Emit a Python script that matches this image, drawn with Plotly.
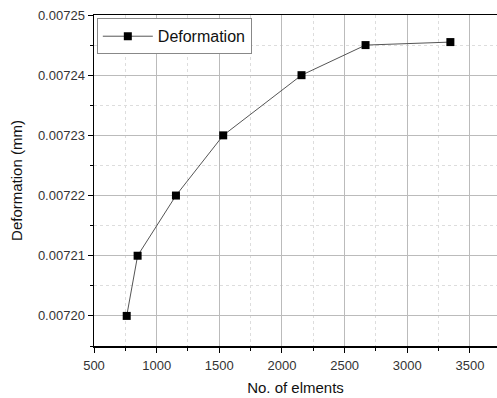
import plotly.graph_objects as go

elements = [761, 848, 1154, 1531, 2156, 2667, 3344]
deformation = [0.00720, 0.00721, 0.00722, 0.00723, 0.00724, 0.007245, 0.0072455]
x_ticks = [500, 1000, 1500, 2000, 2500, 3000, 3500]
y_ticks = [0.00720, 0.00721, 0.00722, 0.00723, 0.00724, 0.00725]
y_labels = ["0.00720", "0.00721", "0.00722", "0.00723", "0.00724", "0.00725"]

fig = go.Figure()
fig.add_trace(go.Scatter(
    x=elements, y=deformation, mode="lines+markers", name="Deformation",
    line=dict(color="#555555", width=1),
    marker=dict(symbol="square", size=8, color="black"),
))

font = "Liberation Sans, Arial, sans-serif"
fig.update_layout(
    width=497, height=398,
    margin=dict(l=94, r=0, t=15, b=52, autoexpand=False),
    paper_bgcolor="white", plot_bgcolor="white",
    font=dict(family=font, color="#222222", size=13),
    showlegend=True, hovermode=False,
    legend=dict(x=0.007, y=0.99, xanchor="left", yanchor="top",
                bordercolor="#888888", borderwidth=1, bgcolor="white",
                itemwidth=50,
                font=dict(size=16, color="#111111")),
    xaxis=dict(
        range=[500, 3716], tickvals=x_ticks, ticks="outside", ticklen=5,
        tickcolor="black", showline=True, linecolor="black", linewidth=1.5,
        mirror=True, showgrid=True, gridcolor="#bbbbbb", gridwidth=1,
        zeroline=False, automargin=False, ticklabelstandoff=2,
        minor=dict(dtick=250, tick0=500, ticks="outside", ticklen=3, tickcolor="black",
                   showgrid=True, gridcolor="#dddddd", griddash="dot", gridwidth=1),
        title=dict(text="No. of elments", font=dict(size=15, color="#111111"), standoff=10),
        tickfont=dict(size=13, color="#333333"),
    ),
    yaxis=dict(
        range=[0.007195, 0.00725], tickvals=y_ticks, ticktext=y_labels,
        ticks="outside", ticklen=5, tickcolor="black", showline=True,
        linecolor="black", linewidth=1.5, showgrid=True, gridcolor="#bbbbbb",
        gridwidth=1, zeroline=False, automargin=False,
        minor=dict(dtick=0.000005, tick0=0.0072, ticks="outside", ticklen=3, tickcolor="black",
                   showgrid=True, gridcolor="#dddddd", griddash="dot", gridwidth=1),
        title=dict(text="Deformation (mm)", font=dict(size=15, color="#111111"), standoff=11),
        tickfont=dict(size=13, color="#333333"),
    ),
)

fig.write_html("out.html", config={"displayModeBar": False, "staticPlot": True},
               post_script="document.body.style.margin='0px';document.body.style.overflow='hidden';")
